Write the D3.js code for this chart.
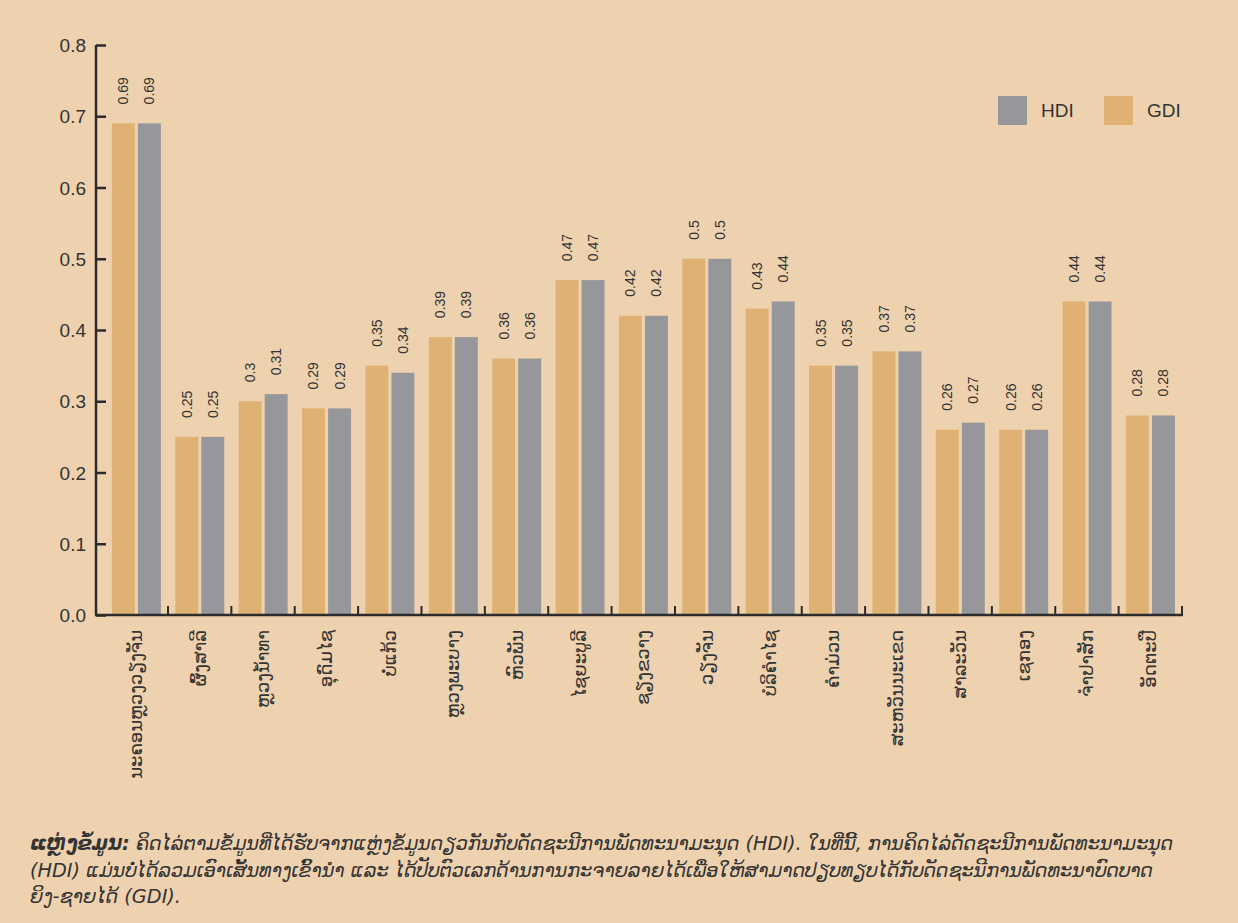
<!DOCTYPE html>
<html>
<head>
<meta charset="utf-8">
<script src="https://cdn.jsdelivr.net/npm/d3@7"></script>
<style>
  html, body { margin: 0; padding: 0; background: #EED1AE; }
  svg { display: block; }
</style>
</head>
<body>
<script>
const provinces = ["ນະຄອນຫຼວງວຽງຈັນ","ຜົ້ງສາລີ","ຫຼວງນ້ຳທາ","ອຸດົມໄຊ","ບໍ່ແກ້ວ","ຫຼວງພະບາງ","ຫົວພັນ","ໄຊຍະບູລີ","ຊຽງຂວາງ","ວຽງຈັນ","ບໍລິຄຳໄຊ","ຄຳມ່ວນ","ສະຫວັນນະເຂດ","ສາລະວັນ","ເຊກອງ","ຈຳປາສັກ","ອັດຕະປື"];
const gdi = [0.69,0.25,0.30,0.29,0.35,0.39,0.36,0.47,0.42,0.50,0.43,0.35,0.37,0.26,0.26,0.44,0.28];
const hdi = [0.69,0.25,0.31,0.29,0.34,0.39,0.36,0.47,0.42,0.50,0.44,0.35,0.37,0.27,0.26,0.44,0.28];
const yTicks = [0,0.1,0.2,0.3,0.4,0.5,0.6,0.7,0.8];
const seriesKeys = ["GDI","HDI"];
const legendKeys = ["HDI","GDI"];
const footLines = [
  ["ແຫຼ່ງຂໍ້ມູນ:", " ຄິດໄລ່ຕາມຂໍ້ມູນທີ່ໄດ້ຮັບຈາກແຫຼ່ງຂໍ້ມູນດຽວກັນກັບດັດຊະນີການພັດທະນາມະນຸດ (HDI). ໃນທີ່ນີ້, ການຄິດໄລ່ດັດຊະນີການພັດທະນາມະນຸດ"],
  ["", "(HDI) ແມ່ນບໍ່ໄດ້ລວມເອົາເສັ້ນທາງເຂົ້ານຳ ແລະ ໄດ້ປັບຕົວເລກດ້ານການກະຈາຍລາຍໄດ້ເພື່ອໃຫ້ສາມາດປຽບທຽບໄດ້ກັບດັດຊະນີການພັດທະນາບົດບາດ"],
  ["", "ຍິງ-ຊາຍໄດ້ (GDI)."]
];

const W = 1238, H = 923;
const colors = {GDI: "#DFB274", HDI: "#96979B"};
const ink = "#2b2b2b";

const svg = d3.select("body").append("svg").attr("width", W).attr("height", H);
svg.append("rect").attr("width", W).attr("height", H).attr("fill", "#EED1AE");

const y = d3.scaleLinear().domain([0, 0.8]).range([615, 45]);
const x0 = d3.scaleBand().domain(provinces).range([104.6, 1182]).paddingInner(0).paddingOuter(0);
const step = x0.step();
const x1 = d3.scaleBand().domain(seriesKeys).range([7.3, 56.3]).paddingInner(0.12);

const data = provinces.map((p, i) => ({p, GDI: gdi[i], HDI: hdi[i]}));

// bars
const g = svg.append("g");
const groups = g.selectAll("g.grp").data(data).join("g")
  .attr("transform", d => `translate(${x0(d.p)},0)`);
groups.selectAll("rect").data(d => seriesKeys.map(k => ({k, v: d[k]}))).join("rect")
  .attr("x", d => x1(d.k))
  .attr("width", x1.bandwidth())
  .attr("y", d => y(d.v))
  .attr("height", d => y(0) - y(d.v))
  .attr("fill", d => colors[d.k]);
groups.selectAll("text").data(d => seriesKeys.map(k => ({k, v: d[k]}))).join("text")
  .attr("transform", d => `translate(${x1(d.k) + x1.bandwidth()/2 + 5},${y(d.v) - 19}) rotate(-90)`)
  .attr("font-family", "Liberation Sans, Arial, sans-serif")
  .attr("font-size", 14)
  .attr("fill", "#333")
  .text(d => String(d.v));

// y axis
const yAxis = d3.axisRight(y).tickValues(yTicks).tickSize(10).tickFormat(d3.format(".1f"));
const ya = svg.append("g").attr("transform", "translate(96,0)").call(yAxis);
ya.select(".domain").attr("stroke", ink).attr("stroke-width", 2.5).attr("d", `M0,${y(0.8)}V${y(0)}`);
ya.selectAll(".tick line").attr("stroke", ink).attr("stroke-width", 2.5);
ya.selectAll(".tick text").attr("x", -10).attr("text-anchor", "end").attr("dy", "0.35em")
  .attr("font-family", "Liberation Sans, Arial, sans-serif").attr("font-size", 19).attr("fill", "#333");

// x axis
const xa = svg.append("g").attr("transform", `translate(0,${y(0)})`);
const xAxis = d3.axisBottom(x0).tickSize(0).tickFormat("");
xa.call(xAxis);
xa.select(".domain").attr("stroke", ink).attr("stroke-width", 2.5).attr("d", `M95,0H1183`);
xa.selectAll(".tick").remove();
xa.selectAll("line.bt").data(provinces).join("line")
  .attr("class", "bt")
  .attr("x1", d => x0(d) + step).attr("x2", d => x0(d) + step)
  .attr("y1", 0).attr("y2", -9)
  .attr("stroke", ink).attr("stroke-width", 2);
xa.selectAll("text.cat").data(provinces).join("text")
  .attr("class", "cat")
  .attr("transform", d => `translate(${x0(d) + step/2 + 6},15) rotate(-90)`)
  .attr("text-anchor", "end")
  .attr("font-family", "DejaVu Sans, sans-serif")
  .attr("font-size", 18)
  .attr("fill", "#333")
  .text(d => d);

// legend
const leg = svg.append("g");
const legX = [998, 1104];
legendKeys.forEach((k, i) => {
  leg.append("rect").attr("x", legX[i]).attr("y", 96).attr("width", 29).attr("height", 29).attr("fill", colors[k]);
  leg.append("text").attr("x", legX[i] + 43).attr("y", 110.5).attr("dy", "0.35em")
    .attr("font-family", "Liberation Sans, Arial, sans-serif").attr("font-size", 19).attr("fill", "#333").text(k);
});

// footnote
const foot = svg.append("g");
footLines.forEach((ln, i) => {
  const t = foot.append("text").attr("x", 30).attr("y", 850 + i * 26.5)
    .attr("font-family", "DejaVu Sans, sans-serif").attr("font-size", 19.3)
    .attr("font-style", "italic").attr("fill", "#333");
  if (ln[0]) t.append("tspan").attr("font-weight", "bold").text(ln[0]);
  t.append("tspan").text(ln[1]);
});
</script>
</body>
</html>
